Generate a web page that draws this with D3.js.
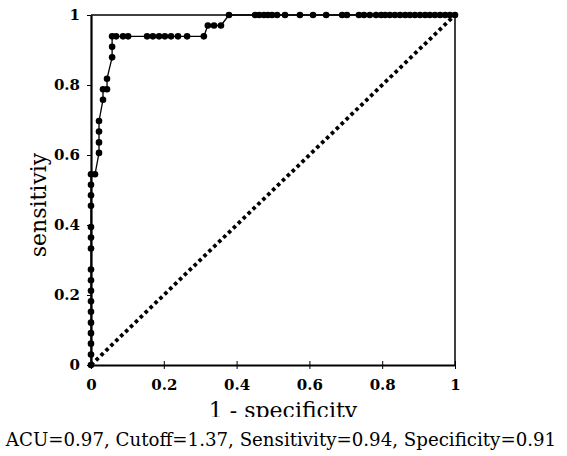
<!DOCTYPE html>
<html><head><meta charset="utf-8">
<script src="https://cdn.jsdelivr.net/npm/d3@7"></script>
<style>html,body{margin:0;padding:0;background:#fff;}svg{display:block;}</style>
</head><body>
<script>
// ROC curve points (1 - specificity, sensitivity)
const fpr = [0,0,0,0,0,0,0,0,0,0,0,0,0,0,0,0,0,
  0.011,0.022,0.022,0.022,0.022,0.033,0.033,0.044,0.044,0.058,0.058,0.058,
  0.069,0.088,0.102,0.154,0.170,0.187,0.203,0.220,0.239,0.264,0.310,
  0.321,0.338,0.357,
  0.379,0.451,0.462,0.475,0.486,0.497,0.511,0.533,0.574,0.610,0.646,0.690,0.703,
  0.736,0.750,0.766,0.783,0.797,0.808,0.821,0.835,0.849,0.863,0.876,0.890,0.904,
  0.918,0.931,0.945,0.959,0.973,0.986,1.0];
const tpr = [0,0.030,0.061,0.091,0.121,0.152,0.182,0.212,0.242,0.273,0.333,0.364,0.394,0.455,0.485,0.515,0.545,
  0.545,0.606,0.636,0.667,0.697,0.758,0.788,0.788,0.818,0.879,0.909,0.939,
  0.939,0.939,0.939,0.939,0.939,0.939,0.939,0.939,0.939,0.939,0.939,
  0.970,0.970,0.970,
  1,1,1,1,1,1,1,1,1,1,1,1,1,
  1,1,1,1,1,1,1,1,1,1,1,1,1,
  1,1,1,1,1,1,1];
const diagonal = [[0,0],[1,1]];
const tickValues = [0,0.2,0.4,0.6,0.8,1];
const tickLabels = ["0","0.2","0.4","0.6","0.8","1"];
const xTitle = "1 - specificity";
const yTitle = "sensitiviy";
const note = "ACU=0.97, Cutoff=1.37, Sensitivity=0.94, Specificity=0.91";

const W = 567, H = 456;
const svg = d3.select("body").append("svg").attr("width", W).attr("height", H);
const x = d3.scaleLinear().domain([0,1]).range([91,455]);
const y = d3.scaleLinear().domain([0,1]).range([365,15]);
const serif = "'DejaVu Serif', 'Liberation Serif', serif";

// frame top/right
svg.append("line").attr("x1",x(0)).attr("x2",x(1)).attr("y1",y(1)).attr("y2",y(1))
  .attr("stroke","#000").attr("stroke-width",1.5);
svg.append("line").attr("x1",x(1)).attr("x2",x(1)).attr("y1",y(1)).attr("y2",y(0))
  .attr("stroke","#000").attr("stroke-width",1.5);

// diagonal dotted line
svg.append("path").datum(diagonal)
  .attr("d", d3.line().x(d=>x(d[0])).y(d=>y(d[1])))
  .attr("fill","none").attr("stroke","#000").attr("stroke-width",3.8)
  .attr("stroke-dasharray","3.6,3.2");

// axes
const xAxis = d3.axisBottom(x).tickValues(tickValues).tickFormat((d,i)=>tickLabels[i]).tickSize(4).tickPadding(10).tickSizeOuter(0);
const yAxis = d3.axisLeft(y).tickValues(tickValues).tickFormat((d,i)=>tickLabels[i]).tickSize(4).tickPadding(7).tickSizeOuter(0);
const gx = svg.append("g").attr("transform",`translate(0,${y(0)})`).call(xAxis);
const gy = svg.append("g").attr("transform",`translate(${x(0)},0)`).call(yAxis);
[gx,gy].forEach(g=>{
  g.select(".domain").attr("stroke","#000").attr("stroke-width",2.2);
  g.selectAll(".tick line").attr("stroke","#000").attr("stroke-width",1);
  g.selectAll(".tick text").attr("fill","#000").style("font-family",serif)
    .style("font-size","15px").style("font-weight","bold");
});
gx.selectAll(".tick line").attr("y1",-4);

// ROC line and markers
const pts = fpr.map((f,i)=>[f,tpr[i]]);
svg.append("path").datum(pts)
  .attr("d", d3.line().x(d=>x(d[0])).y(d=>y(d[1])))
  .attr("fill","none").attr("stroke","#000").attr("stroke-width",1.3);
svg.append("g").selectAll("circle").data(pts).join("circle")
  .attr("cx",d=>x(d[0])).attr("cy",d=>y(d[1])).attr("r",3.3).attr("fill","#000");

// titles
svg.append("defs").append("clipPath").attr("id","clipx")
  .append("rect").attr("x",0).attr("y",0).attr("width",W).attr("height",417);
svg.append("text").attr("x",283).attr("y",418).attr("text-anchor","middle")
  .attr("clip-path","url(#clipx)")
  .style("font-family",serif).style("font-size","22px").text(xTitle);
svg.append("text").attr("transform","translate(46,205) rotate(-90)").attr("text-anchor","middle")
  .style("font-family",serif).style("font-size","22px").text(yTitle);
svg.append("text").attr("x",281).attr("y",446).attr("text-anchor","middle")
  .style("font-family",serif).style("font-size","18.2px").text(note);
</script>
</body></html>
